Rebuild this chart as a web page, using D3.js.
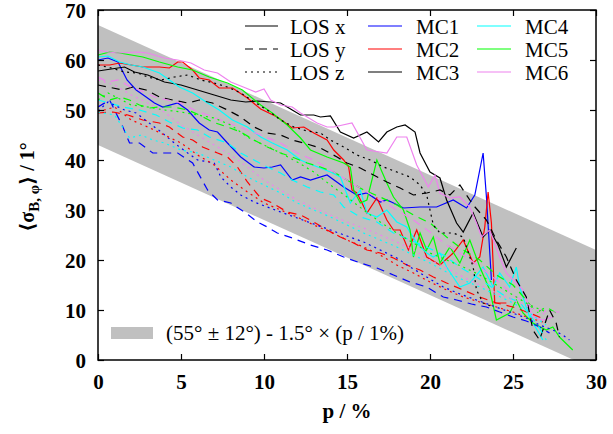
<!DOCTYPE html>
<html lang="en">
<head>
  <meta charset="UTF-8">
  <title>sigma vs p</title>
  <script src="https://d3js.org/d3.v7.min.js"></script>
  <style>
    body { margin: 0; background: #fff; }
    svg { display: block; }
    .tick text { font-family: "Liberation Serif", "Times New Roman", "DejaVu Serif", serif; font-weight: bold; font-size: 21px; fill: #000; }
    .leg { font-family: "Liberation Serif", "Times New Roman", "DejaVu Serif", serif; font-size: 21px; fill: #000; }
    .ttl { font-family: "Liberation Serif", "Times New Roman", "DejaVu Serif", serif; font-weight: bold; font-size: 21px; fill: #000; }
  </style>
</head>
<body>
<div class="main"></div>
<script>
  // band: (55 +- 12) - 1.5 * p
  var bandP = [0, 30];
  var bandMid = 55, bandHalf = 12, bandSlope = 1.5;

  var xTicks = [0, 5, 10, 15, 20, 25, 30];
  var yTicks = [0, 10, 20, 30, 40, 50, 60, 70];

  // LOS x (solid)
  var mc1x = [[0,60],[0.6,60.4],[1.2,59.6],[1.75,56],[2.3,54],[2.9,52.6],[3.4,51.4],[3.9,50.6],[4.8,51.4],[5.4,50],[6.1,47.4],[6.7,46],[7.2,45.6],[7.8,43.4],[8.6,40.6],[9.4,38.6],[10,38.4],[10.5,38.6],[11,39],[11.7,36],[12.2,36.6],[12.8,36],[13.8,37],[14.8,34.6],[15.6,33],[16.2,33.4],[17,31.6],[17.4,32],[17.8,31.4],[18.4,30.4],[19.4,30.6],[20.4,30.6],[21.4,32],[22.2,30.4],[22.7,33],[23.2,41.4],[23.4,32.6],[23.7,16]];
  var mc2x = [[0,59],[0.7,59],[1.3,59.4],[2,59],[2.7,58.6],[3.7,58.6],[4.3,58.4],[4.8,59.6],[5.1,59.6],[5.7,58],[6.1,56.4],[6.7,56],[7.3,54.4],[8.1,54.4],[9,52.4],[9.8,50.2],[10.8,48.6],[11.7,46.4],[12.4,46.6],[13,45.4],[13.8,44],[14.2,42],[14.8,40],[15.1,38.6],[15.3,34],[15.6,33.4],[16.2,29.4],[16.8,32.4],[17.4,28],[17.8,26],[18.2,26],[18.7,22],[19.2,26],[19.8,20.6],[20.6,19],[21.4,21.4],[22,24],[22.6,19.4],[23,20.6],[23.3,26.6],[23.5,33.6],[23.7,27.4],[23.9,11.4],[24.6,11.4]];
  var mc3x = [[0,57.8],[0.8,58.2],[1.6,58.6],[2.2,57.6],[3,57],[4,55.6],[5,55],[6,54],[7,53],[8,52],[8.9,51.6],[9.6,51.8],[10.4,51.6],[11,51.4],[11.7,50],[12.2,49],[13,49],[13.4,48.6],[14,48.8],[14.6,45.6],[15.4,44.4],[16.2,45.6],[16.9,43.6],[17.4,45.6],[18,46.6],[18.5,47],[19.1,45.6],[19.4,41.4],[20,37.6],[20.6,36.4],[21,32],[21.6,27.4],[22,25.6],[22.6,29.4],[23.2,24.6],[23.6,26],[24.1,23],[24.6,18.6],[25.2,22.4]];
  var mc4x = [[0,60.6],[0.6,60.8],[1.3,59.6],[2,59],[2.7,58.6],[3.7,57.4],[4.3,56],[4.9,54.6],[5.7,53.4],[6.6,51.4],[7.3,50],[8.1,48],[9,46.6],[9.8,44.6],[10.5,43.4],[11.4,42],[12.2,40],[12.6,39.4],[13.4,38.4],[14,37.6],[14.6,36.6],[15.2,31.4],[15.8,34],[16.2,29.4],[16.8,28.6],[17.4,30],[18,27.6],[18.6,26.6],[19.2,23.4],[19.8,21.4],[20.2,20.6],[20.6,21.4],[21,18.6],[21.8,14.6],[22.4,15.4],[23.2,18.6],[23.8,14.6],[24.2,17.4],[24.8,14.6],[25.2,18.6],[25.4,14.6],[26,8.6],[26.8,4]];
  var mc5x = [[0,61],[0.7,61.6],[1.3,61.4],[2,61],[2.7,60.6],[3.7,59.6],[4.8,58.6],[5.7,58],[6.7,56.6],[7.8,55.4],[8.7,54],[9.8,51],[10.5,49.4],[11.4,47],[12.2,44.4],[12.8,42],[13.8,40.6],[14.8,39.4],[15.2,38.6],[15.4,34],[15.8,31.4],[16.2,32],[16.8,40],[17.4,35.4],[17.8,32.6],[18.4,30],[18.8,26],[19,20.6],[19.4,25.4],[19.8,22],[20.2,24.6],[20.6,19.4],[21.2,22.6],[21.8,19.4],[22.4,24],[23,18.6],[23.6,14],[24,8],[24.8,9.4],[25.2,12],[25.6,9.4],[26.2,7.4],[27,6],[27.4,6.6],[27.8,4.6],[28.6,2]];
  var mc6x = [[0,62],[0.6,61.6],[1.2,61.4],[2.4,61.6],[3,61.4],[4,60.4],[4.8,60],[5.6,59.4],[6.4,58],[7.2,57.4],[8,55.6],[8.9,54.4],[9.5,53.6],[10,54.2],[10.4,52],[11,51],[11.7,50.6],[12.2,49.4],[12.6,48.6],[13.2,47.4],[13.8,46.6],[14.2,46.6],[15.3,47.4],[16.2,42],[17.4,41.4],[18,44.6],[18.6,44.6],[19.2,39],[19.9,34.6],[20.3,37],[20.6,33.4],[21.2,32.4],[21.8,32.6],[22.4,30.6],[22.8,27.4],[23.1,24.6],[23.6,26],[24.2,20.6],[24.6,17.4],[25.2,15.4],[25.6,14],[26.2,8.6],[26.8,8],[27.4,8.6]];

  // LOS y (dashed)
  var mc1y = [[0,50.6],[0.7,52],[1.5,46.6],[1.9,43.4],[2.5,43.4],[3.3,41.4],[3.9,41.4],[4.8,41.4],[5.7,39.4],[6.6,34],[7.2,32],[8,31.4],[8.9,29.4],[9.6,27.6],[10.2,26.6],[10.8,25.4],[11.7,24.4],[12.8,23],[13.8,22],[14.8,20.6],[15.8,19.4],[16.8,18.4],[17.8,17],[18.8,15.6],[19.8,14.6],[20.8,12.6],[21.6,12],[22.5,11.2],[23.4,10.6],[24.2,9.6],[25,8.6],[25.8,7.8],[26.6,6.6],[27.2,5.4]];
  var mc2y = [[0,49.4],[0.9,49.6],[1.8,49],[2.7,48],[3.7,47.4],[4.3,46.6],[5.1,44.6],[5.7,44],[6.3,42.6],[7.2,41.4],[7.8,40.6],[8.4,38.6],[9,35.6],[9.8,32.4],[10.5,31.4],[11.4,29.6],[12.2,29],[13,27.6],[13.8,26],[14.6,24.6],[15.4,23.4],[16.2,22],[17,21.4],[17.8,20.4],[18.6,19],[19.4,18],[20.2,16.6],[21,15.4],[22,14],[23,12.6],[24,11.4],[25,10.6],[26,9.4],[27,8]];
  var mc3y = [[0,55],[0.9,54.4],[1.5,54],[2.1,54.6],[2.9,54],[3.7,52.6],[4.5,52],[5.4,51.4],[6.1,52],[6.9,51.4],[7.8,50],[8.6,48.6],[9.4,46.6],[10.2,45.4],[11,45],[11.7,44],[12.6,43.2],[13.4,42.4],[14.4,40.6],[15,39.4],[15.8,38.4],[16.6,37],[17.4,35.6],[18.2,34.4],[19,33],[19.8,33.4],[20.6,34],[21.2,33],[21.8,35],[22.6,31],[23.4,28],[24,24],[24.6,20.6],[25.2,16],[25.8,12.6],[26.2,6],[26.6,4],[27.2,10],[27.6,7.4],[27.8,4.6]];
  var mc4y = [[0,52],[0.7,51.4],[1.5,50.6],[2.5,50],[3.5,49],[4.3,47.6],[5.1,46.4],[6,46],[6.7,44.6],[7.8,43.4],[8.6,41.4],[9.4,40],[10.2,38.6],[11,37.4],[11.7,36],[12.6,34.6],[13.4,33.6],[14.2,33],[14.8,30.6],[15.8,28.6],[16.8,27.6],[17.8,25.4],[18.8,24],[19.8,22.6],[20.8,21],[21.8,18.6],[22.8,16.6],[23.8,14.4],[24.6,12.6],[25.4,11.6],[26,9],[26.5,7],[27,4]];
  var mc5y = [[0,53.4],[0.7,52],[1.3,52.6],[1.9,52],[2.5,51],[3.1,50.4],[3.7,50.6],[4.5,50.6],[5.4,50],[6.1,49],[6.9,47.6],[7.8,46.6],[8.6,45.6],[9.4,44],[10.2,42.6],[11,41.4],[11.7,40.6],[12.6,39.4],[13.4,38.6],[14.2,37.6],[15,36],[16,34],[17,32.6],[18,31],[19,29],[20,27.4],[21,24.6],[22,22],[23,20],[24,17],[25,15],[25.8,12],[26.4,9.4],[27,10.6],[27.6,9.4]];
  var mc6y = [[0,56.6],[0.6,55.6],[1.2,56],[2,54.6],[2.8,53.6],[3.4,52.6],[4.2,52],[5,51.4],[5.8,50],[6.6,49],[7.4,48],[8.2,47],[9,46],[9.8,45],[11,43.4],[12,41.4],[13,40],[14,38],[15,36],[16,34],[17,32],[18,30],[19,28],[20,25.6],[21,23],[22,21],[23,18.6],[24,16],[25,13],[26,11],[27,9.6],[27.8,9.6]];

  // LOS z (dotted)
  var mc1z = [[0,49.8],[0.6,51.6],[1.6,50],[2.3,49.4],[3,47.6],[3.8,45.6],[4.6,43.4],[5.4,41.4],[6,40],[7,39.4],[7.4,36.6],[8,34.6],[8.6,33],[9.4,31.6],[10.2,30.6],[11,29.6],[12,28.4],[13,27.2],[14,26],[15,24.8],[16,23.6],[17,22],[18,20.4],[18.8,18.6],[19.8,16.6],[20.8,14.6],[21.8,13.2],[22.8,12],[23.8,10.8],[24.8,9.6],[25.8,8.4],[26.6,7],[27.4,6],[28,5],[28.4,4]];
  var mc2z = [[0,49.6],[1,50.6],[2,48],[3,46.6],[4,45],[5,43.4],[6,41],[7,39],[8,36],[9,33.6],[10,31.4],[11,30],[12,28.6],[13,27],[14,25.6],[15,24],[16,22.6],[17,21],[18,19],[19,17.4],[20,15.6],[21,14],[22,12.6],[23,11.6],[24,10.6],[25,9.6],[26,8.4],[27,7.4]];
  var mc3z = [[0,59],[0.8,58.4],[1.6,57.6],[2.4,57.4],[3,56.6],[3.8,56],[4.6,56.6],[5.4,57],[6.2,56],[7,55.4],[7.8,54.6],[8.6,53.4],[9.4,51.6],[10.2,50],[11,48],[11.8,46.6],[12.6,45.8],[13.4,45.4],[14,44],[14.8,42.6],[15.6,41],[16.4,40],[17.2,38.6],[18,37.6],[18.8,36.6],[19.4,35],[19.8,33],[20.2,27],[20.6,25.4],[21.4,25.4],[22,24.6],[22.6,18.6],[22.8,14],[23.2,11.4],[23.8,10.6]];
  var mc4z = [[0,49.6],[1,49],[1.9,44.4],[2.6,45],[3.3,44],[4,43.4],[5,42],[6,41.4],[7,40],[8,38.6],[9,36.6],[10,35],[11,33.4],[12,31.4],[13,30],[14,28.6],[15,27],[16,25.4],[17,24],[18,22.6],[19,21],[20,19.4],[21,17.6],[22,16],[23,14.6],[24,13],[25,11.4],[26,9.4],[27,7]];
  var mc5z = [[0,52],[0.6,53.4],[1.2,52.4],[2,51],[3,50.6],[4,50],[5,49.6],[6,49],[7,48.4],[8,47],[9,44.6],[10,43],[11,41.4],[12,39.6],[13,37.6],[14,35],[15,32.6],[16,30],[17,27.6],[18,25.4],[19,23.4],[20,21.4],[21,20],[22,18.6],[23,17],[24,15],[25,13],[26,11],[27,9.6]];
  var mc6z = [[0,56],[1,55],[2,53],[3,51.4],[4,49.6],[5,47],[6,45],[7,43],[8,41],[9,38.6],[10,36],[11,34],[12,32],[13,30.4],[14,29],[15,27.6],[16,26.4],[17,25],[18,23.6],[19,22],[20,20],[21,18.4],[22,16.6],[23,15],[24,13.4],[25,12],[26,10.6],[27,9]];

  var mcNames = ["MC1", "MC2", "MC3", "MC4", "MC5", "MC6"];
  var mcColors = ["#0000ff", "#ff0000", "#000000", "#00ffff", "#00ff00", "#ee82ee"];
  var losNames = ["LOS x", "LOS y", "LOS z"];
  var losDash = [null, "8,6", "2,4"];
  var seriesX = [mc1x, mc2x, mc3x, mc4x, mc5x, mc6x];
  var seriesY = [mc1y, mc2y, mc3y, mc4y, mc5y, mc6y];
  var seriesZ = [mc1z, mc2z, mc3z, mc4z, mc5z, mc6z];

  let width = 613;
  let height = 434;
  let svg = d3.select(".main").append("svg").attr("width", width).attr("height", height);

  let x = d3.scaleLinear().domain([0, 30]).range([98, 596]);
  let y = d3.scaleLinear().domain([0, 70]).range([360, 10]);

  svg.append("clipPath").attr("id", "plotClip").append("rect")
    .attr("x", 98).attr("y", 10).attr("width", 498).attr("height", 350);

  let plot = svg.append("g").attr("clip-path", "url(#plotClip)");

  // gray band
  let band = d3.area()
    .x(d => x(d))
    .y0(d => y(bandMid - bandHalf - bandSlope * d))
    .y1(d => y(bandMid + bandHalf - bandSlope * d));
  plot.append("path").datum(bandP).attr("d", band).style("fill", "#c0c0c0");

  let line = d3.line().x(d => x(d[0])).y(d => y(d[1]));

  // draw series
  [seriesX, seriesY, seriesZ].forEach(function(group, g) {
    group.forEach(function(data, i) {
      plot.append("path").datum(data).attr("d", line)
        .style("fill", "none")
        .style("stroke", mcColors[i])
        .style("stroke-width", 1.2)
        .style("stroke-dasharray", losDash[g]);
    });
  });

  // axes, ticks inward on all sides
  let axB = svg.append("g").attr("transform", "translate(0,360)")
    .call(d3.axisBottom(x).tickValues(xTicks).tickSize(-6).tickPadding(14).tickFormat(d3.format("d")));
  let axT = svg.append("g").attr("transform", "translate(0,10)")
    .call(d3.axisTop(x).tickValues(xTicks).tickSize(-6).tickFormat(""));
  let axL = svg.append("g").attr("transform", "translate(98,0)")
    .call(d3.axisLeft(y).tickValues(yTicks).tickSize(-6).tickPadding(12).tickFormat(d3.format("d")));
  let axR = svg.append("g").attr("transform", "translate(596,0)")
    .call(d3.axisRight(y).tickValues(yTicks).tickSize(-6).tickFormat(""));
  [axB, axT, axL, axR].forEach(function(a) {
    a.attr("font-family", null).attr("font-size", null);
    a.select(".domain").remove();
    a.selectAll(".tick line").style("stroke", "#000").style("stroke-width", 1.2);
  });
  axL.selectAll(".tick text").attr("dy", "0.34em");

  svg.append("rect").attr("x", 98).attr("y", 10).attr("width", 498).attr("height", 350)
    .style("fill", "none").style("stroke", "#000").style("stroke-width", 1.5);

  // axis titles
  svg.append("text").attr("class", "ttl").attr("x", 347).attr("y", 418).attr("text-anchor", "middle")
    .text("p / %");

  let yt = svg.append("text").attr("class", "ttl").attr("transform", "translate(34,187) rotate(-90)").attr("text-anchor", "middle")
    .style("font-size", "20px");
  yt.append("tspan").text("\u27E8\u03C3");
  yt.append("tspan").attr("dy", 5).style("font-size", "15px").text("B, \u03C6");
  yt.append("tspan").attr("dy", -5).text("\u27E9 / 1\u00B0");

  // legend: line styles
  losNames.forEach(function(name, i) {
    let ly = 26 + i * 23;
    svg.append("line").attr("x1", 245).attr("x2", 278).attr("y1", ly).attr("y2", ly)
      .style("stroke", "#000").style("stroke-width", 1.2).style("stroke-dasharray", losDash[i]);
    svg.append("text").attr("class", "leg").attr("x", 290).attr("y", ly + 7.5).text(name);
  });
  // legend: MC colours
  mcNames.forEach(function(name, i) {
    let col = Math.floor(i / 3), row = i % 3;
    let ly = 26 + row * 23;
    let lx = col === 0 ? 368 : 477;
    svg.append("line").attr("x1", lx).attr("x2", lx + 34).attr("y1", ly).attr("y2", ly)
      .style("stroke", mcColors[i]).style("stroke-width", 1.2);
    svg.append("text").attr("class", "leg").attr("x", lx + 48).attr("y", ly + 7.5).text(name);
  });

  // legend: band
  svg.append("rect").attr("x", 111).attr("y", 327).attr("width", 42).attr("height", 12).style("fill", "#c0c0c0");
  svg.append("text").attr("class", "leg").attr("x", 166).attr("y", 340)
    .text("(55\u00B0 \u00B1 12\u00B0) - 1.5\u00B0 \u00D7 (p / 1%)");
</script>
</body>
</html>
